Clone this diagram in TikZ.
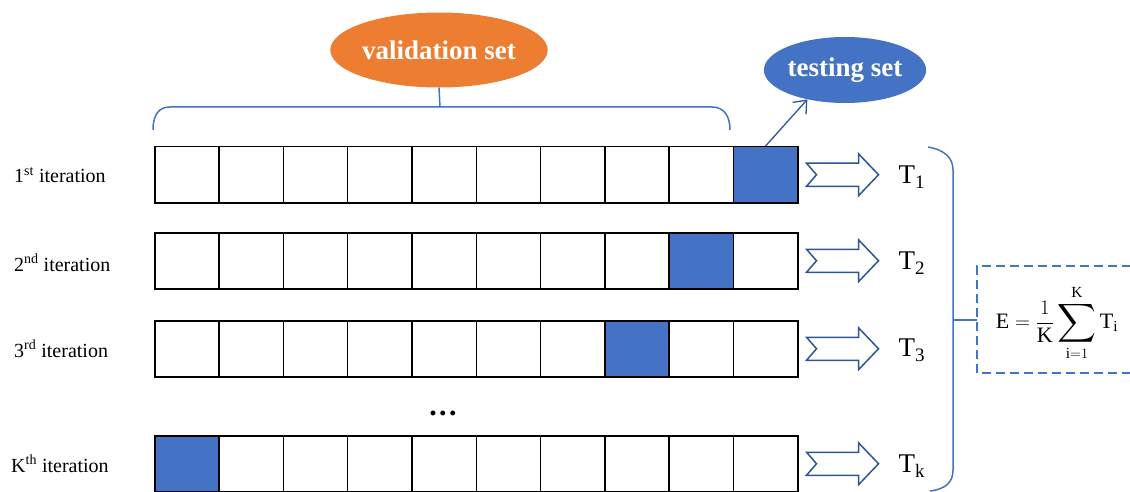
\documentclass[tikz,border=0pt]{standalone}
\usepackage{amsmath}
\usepackage{graphicx}
\usepackage{fontspec}
\setmainfont{Liberation Serif}
\usetikzlibrary{shapes.geometric,arrows.meta,calc}
\definecolor{orng}{HTML}{ED7D31}
\definecolor{bl}{HTML}{4472C4}
\definecolor{dbl}{HTML}{2F5597}
\begin{document}
\begin{tikzpicture}[x=1pt,y=-1pt,
  cell/.style={draw=black,line width=1.5pt,minimum width=64.3pt,minimum height=56pt,inner sep=0pt,anchor=north west},
  lab/.style={anchor=west,inner sep=0pt,font=\fontsize{20}{24}\selectfont},
  tlab/.style={inner sep=0pt,font=\fontsize{27}{30}\selectfont},
  setell/.style={ellipse,inner sep=0pt,text=white,font=\fontsize{27}{30}\selectfont\bfseries},
  bluel/.style={bl,line width=1.5pt},
  blockarrow/.style={draw=dbl,line width=1.5pt,fill=white,line join=miter}
]
\useasboundingbox (0,0) rectangle (1130,492);
% rows of cells
\foreach \r/\y/\b in {1/146/10,2/232/9,3/320/8,4/435/1}{
  \foreach \c in {1,...,10}{
    \ifnum\c=\b\relax\def\fc{bl}\else\def\fc{white}\fi
    \node[cell,fill=\fc] (r\r c\c) at ({154+(\c-1)*64.3},\y) {};
  }
}
% labels
\node[lab] (l1) at (14,175) {1\textsuperscript{st} iteration};
\node[lab] (l2) at (14,263) {2\textsuperscript{nd} iteration};
\node[lab] (l3) at (14,349) {3\textsuperscript{rd} iteration};
\node[lab] (l4) at (11,464) {K\textsuperscript{th} iteration};
% dots
\node[inner sep=0pt,font=\fontsize{30}{30}\selectfont\bfseries] (dots) at (443,413) {.\hspace{2.5pt}.\hspace{2.5pt}.};
% block arrows and T labels
\foreach \r/\s in {1/1,2/2,3/3,4/k}{
  \coordinate (a\r) at ($(r\r c10.east)+(8,0)$);
  \draw[blockarrow] (a\r) ++(0,-11.5) -- ++(52,0) -- ++(0,-9.5) -- ++(20,21) -- ++(-20,21) -- ++(0,-9.5) -- ++(-52,0) -- ++(10,-11.5) -- cycle;
  \node[tlab,anchor=west] (t\r) at ($(r\r c10.east)+(100,2)$) {T\raisebox{-5pt}{\fontsize{19}{19}\selectfont\s}};
}
% ellipses
\node[setell,fill=orng,minimum width=212pt,minimum height=75pt] (val) at (439,50) {validation set};
\node[setell,fill=bl,minimum width=159pt,minimum height=66pt] (test) at (845,70) {testing set};
% top brace
\coordinate (bmid) at (440,107);
\draw[bluel] (153,130) .. controls (153,116) and (158,107) .. (170,107) -- (712,107) .. controls (724,107) and (730,116) .. (730,130);
\draw[bluel] (bmid) -- (val.south);
% arrow to testing set
\draw[dbl,line width=1.3pt,-{Straight Barb[length=11pt,width=18pt,line width=1.3pt]}] (r1c10.north) -- (test.218);
% right brace
\coordinate (rmid) at (953,320);
\draw[bluel] (928,147) .. controls (945,150) and (953,158) .. (953,170) -- (953,470) .. controls (953,482) and (946,489) .. (930,491);
% dashed box
\coordinate (boxw) at (977,320);
\draw[bl,line width=1.5pt,dash pattern=on 9pt off 5pt] (1131,266) -- (977,266) -- (977,373) -- (1131,373);
\draw[bluel] (rmid) -- (boxw);
\node[inner sep=0pt] (formula) at (1057,323) {\fontsize{22}{26}\selectfont$\displaystyle \mathrm{E}=\frac{1}{\mathrm{K}}\mathop{\vcenter{\hbox{\scalebox{1.3}{$\displaystyle\sum$}}}}\limits_{\mathrm{i}=1}^{\mathrm{K}}\mathrm{T}_{\mathrm{i}}$};
\end{tikzpicture}
\end{document}
